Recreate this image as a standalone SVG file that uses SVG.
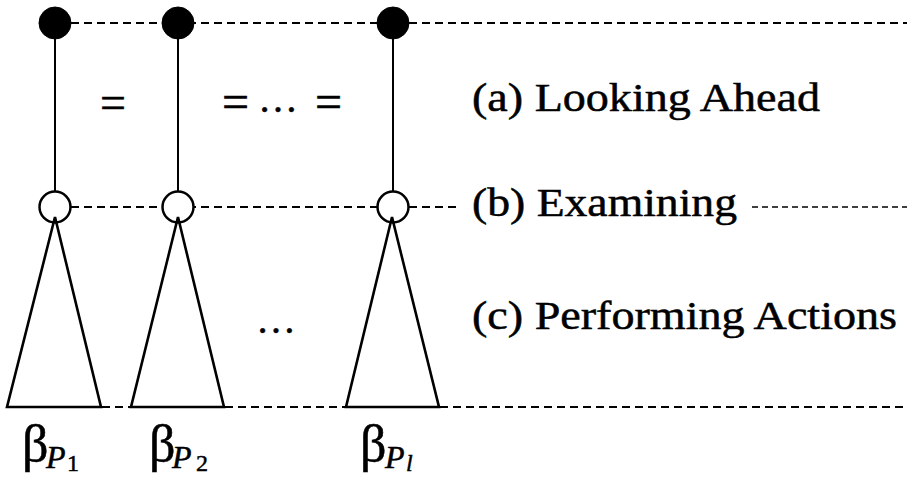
<svg xmlns="http://www.w3.org/2000/svg" width="907" height="477" viewBox="0 0 907 477">
<style>
.dash{stroke:#000;stroke-width:2;stroke-dasharray:8 5;fill:none}
.dash2{stroke:#000;stroke-width:1.6;stroke-dasharray:6 4;fill:none}
.stem{stroke:#000;stroke-width:2;fill:none}
.tri{stroke:#000;stroke-width:2.6;fill:none;stroke-linejoin:miter}
.full{fill:#000;stroke:#000;stroke-width:1}
.open{fill:#fff;stroke:#000;stroke-width:2.5}
text{font-family:"Liberation Serif","Times New Roman",serif;fill:#000;stroke:#000;stroke-width:0.5}
.b{font-size:52px}
.p{font-size:32px;font-style:italic}
.s{font-size:24px;font-style:normal}
.si{font-size:24px;font-style:italic}
</style>
<g id="connectors">
<line class="dash" x1="71" y1="23" x2="907" y2="23"/>
<line class="dash" x1="71" y1="207" x2="458" y2="207"/>
<line class="dash2" x1="752" y1="207" x2="907" y2="207"/>
<line class="dash" x1="102" y1="407" x2="131" y2="407"/>
<line class="dash" x1="225" y1="407" x2="346" y2="407"/>
<line class="dash" x1="440" y1="407" x2="907" y2="407"/>
<line class="stem" x1="55" y1="23" x2="55" y2="207"/>
<line class="stem" x1="178" y1="23" x2="178" y2="207"/>
<line class="stem" x1="393" y1="23" x2="393" y2="207"/>
</g>
<g id="node-p1">
<circle class="full" cx="55" cy="23" r="16"/>
<circle class="open" cx="55" cy="207" r="15.5"/>
<polygon class="tri" points="55,217 7,407 101,407"/>
<text class="b" x="22" y="461">β<tspan class="p" x="46" y="468">P</tspan><tspan class="s" x="67" y="471">1</tspan></text>
</g>
<g id="node-p2">
<circle class="full" cx="178" cy="23" r="16"/>
<circle class="open" cx="178" cy="207" r="15.5"/>
<polygon class="tri" points="178,217 131,407 224,407"/>
<text class="b" x="149" y="461">β<tspan class="p" x="172" y="468">P</tspan><tspan class="s" x="196" y="471">2</tspan></text>
</g>
<g id="node-pl">
<circle class="full" cx="393" cy="23" r="16"/>
<circle class="open" cx="393" cy="207" r="15.5"/>
<polygon class="tri" points="392,217 346,407 439,407"/>
<text class="b" x="360" y="461">β<tspan class="p" x="385" y="468">P</tspan><tspan class="si" x="406" y="471">l</tspan></text>
</g>
<g id="equalities">
<text x="100" y="118" font-size="46">=</text>
<text x="222" y="118" font-size="48">=</text>
<text x="258" y="112" font-size="40">…</text>
<text x="315" y="118" font-size="48">=</text>
<text x="256" y="333" font-size="40">…</text>
</g>
<g id="labels">
<text x="472" y="111" font-size="40" textLength="348" lengthAdjust="spacingAndGlyphs">(a) Looking Ahead</text>
<text x="472" y="216" font-size="40" textLength="265" lengthAdjust="spacingAndGlyphs">(b) Examining</text>
<text x="472" y="329" font-size="40" textLength="425" lengthAdjust="spacingAndGlyphs">(c) Performing Actions</text>
</g>
</svg>
